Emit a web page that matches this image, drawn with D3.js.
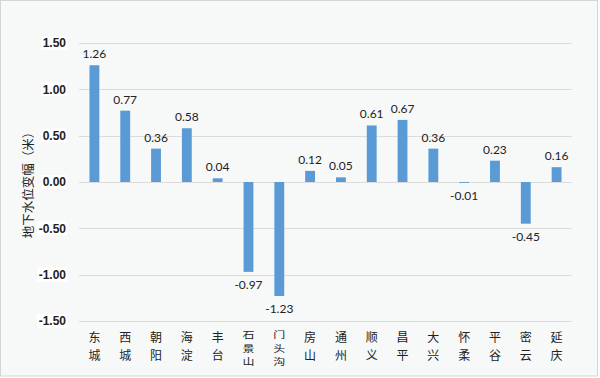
<!DOCTYPE html>
<html><head><meta charset="utf-8">
<script src="https://cdn.jsdelivr.net/npm/d3@7"></script>
<style>body{margin:0;background:#fff}svg{display:block}</style>
</head><body>
<script>
const categories = ["东城","西城","朝阳","海淀","丰台","石景山","门头沟","房山","通州","顺义","昌平","大兴","怀柔","平谷","密云","延庆"];
const values = [1.26,0.77,0.36,0.58,0.04,-0.97,-1.23,0.12,0.05,0.61,0.67,0.36,-0.01,0.23,-0.45,0.16];
const yTicks = [1.5,1.0,0.5,0.0,-0.5,-1.0,-1.5];
const yTitle = "地下水位变幅（米）";

const W=600,H=378;
const svg=d3.select("body").append("svg").attr("width",W).attr("height",H);
svg.append("rect").attr("x",0.5).attr("y",0.5).attr("width",W-3).attr("height",H-2.5)
  .attr("fill","#f7f9f9").attr("stroke","#d4d6d6");

const x=d3.scaleBand().domain(categories).range([79,572]).paddingInner(0.68).paddingOuter(0.34);
const y=d3.scaleLinear().domain([-1.5,1.5]).range([321,43]);

const g=svg.append("g");
g.selectAll("line.grid").data(yTicks).join("line").attr("class","grid")
  .attr("x1",79).attr("x2",572).attr("y1",d=>Math.round(y(d))+0.5).attr("y2",d=>Math.round(y(d))+0.5)
  .attr("stroke","#dcdcdc").attr("stroke-width",1);

const fmt=d=>d.toFixed(2);
const tl=g.selectAll("g.ytick").data(yTicks).join("g").attr("class","ytick")
  .attr("transform",d=>`translate(66,${y(d)})`);
tl.append("rect").attr("x",d=>d<0?-29:-25).attr("y",-7).attr("width",d=>d<0?30:26).attr("height",14).attr("fill","#fff");
tl.append("text").attr("text-anchor","end").attr("dy","0.35em")
  .attr("font-family","'Liberation Sans',Arial,sans-serif").attr("font-weight","bold").attr("font-size",12)
  .attr("fill","#222").text(d=>fmt(d));

g.selectAll("rect.bar").data(values).join("rect").attr("class","bar")
  .attr("x",(d,i)=>x(categories[i])).attr("width",x.bandwidth())
  .attr("y",d=>y(Math.max(0,d))).attr("height",d=>Math.abs(y(d)-y(0)))
  .attr("fill","#5b9bd5");

g.selectAll("text.val").data(values).join("text").attr("class","val")
  .attr("x",(d,i)=>x(categories[i])+x.bandwidth()/2)
  .attr("y",d=>d>=0?y(d)-7:y(d)+17)
  .attr("text-anchor","middle").attr("font-family","Lato,'Open Sans',sans-serif").attr("font-size",12)
  .attr("fill","#222").text(d=>fmt(d));

const chars=[];
categories.forEach(c=>{const a=Array.from(c);a.forEach((ch,i)=>chars.push({cat:c,ch,i,n:a.length}));});
g.selectAll("text.cat").data(chars).join("text").attr("class","cat")
  .attr("transform",d=>{
    const cx=x(d.cat)+x.bandwidth()/2;
    if(d.n>2){const cy=335+d.i*13.5;return `translate(${cx},${cy}) scale(1,0.74)`;}
    return `translate(${cx},${337+d.i*18})`;
  })
  .attr("dy","0.38em")
  .attr("text-anchor","middle").attr("font-family","'Noto Sans CJK SC',sans-serif").attr("font-size",12).attr("fill","#222")
  .text(d=>d.ch);

svg.append("text").attr("transform","translate(33,182) rotate(-90)")
  .attr("text-anchor","middle").attr("font-family","'Noto Sans CJK SC',sans-serif").attr("font-size",12.5)
  .attr("fill","#222").text(yTitle);
</script>
</body></html>
